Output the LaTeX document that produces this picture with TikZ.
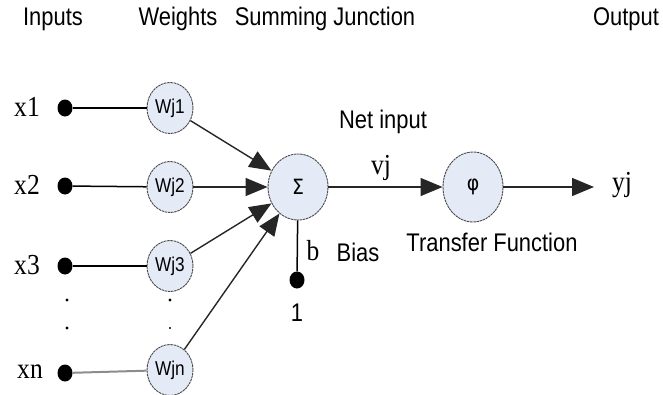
\documentclass[tikz,border=0pt]{standalone}
\usepackage{fontspec}
\setmainfont[FakeStretch=0.88]{Liberation Serif}
\newfontfamily\narrowsans[FakeStretch=0.86]{Liberation Sans}
\newfontfamily\greekfont[FakeStretch=0.9]{DejaVu Sans}
\usetikzlibrary{shapes.geometric,arrows.meta}
\definecolor{cellfill}{HTML}{E4EBF6}
\definecolor{cellrim}{HTML}{4A4A4A}
\tikzset{
  hdr/.style={inner sep=0pt, font=\narrowsans\fontsize{25.5}{27}\selectfont},
  lbl/.style={inner sep=0pt, font=\fontsize{29}{31}\selectfont},
  weightnode/.style={ellipse, draw=cellrim, fill=cellfill, line width=0.9pt,
    dash pattern=on 2.5pt off 0.7pt, minimum width=46pt, minimum height=51pt,
    inner sep=0pt, font=\narrowsans\fontsize{20}{22}\selectfont},
  bignode/.style={ellipse, draw=cellrim, fill=cellfill, line width=0.9pt,
    dash pattern=on 2.5pt off 0.7pt, minimum width=60pt, minimum height=68pt,
    inner sep=0pt},
  pin/.style={ellipse, fill=black, minimum width=15pt, minimum height=17pt, inner sep=0pt},
  tinydot/.style={circle, fill=black, minimum size=3.2pt, inner sep=0pt},
  wire/.style={line width=1.5pt, black},
  feed/.style={line width=1.4pt, black!85, -{Triangle[length=22pt,width=18pt]}},
}
\begin{document}
\begin{tikzpicture}[x=1pt, y=-1pt]
\useasboundingbox (0,0) rectangle (663,394);

% column headings
\node[hdr] (hIn)  at (53,19)  {Inputs};
\node[hdr] (hW)   at (178,19) {Weights};
\node[hdr] (hS)   at (325,19) {Summing Junction};
\node[hdr] (hOut) at (626,19) {Output};

% inputs
\node[lbl] (lx1) at (27,107) {x1};
\node[lbl] (lx2) at (27,185) {x2};
\node[lbl] (lx3) at (27,265) {x3};
\node[lbl] (lxn) at (30,372) {xn};

\node[pin] (p1) at (65,108) {};
\node[pin] (p2) at (65,186) {};
\node[pin] (p3) at (65,266) {};
\node[pin] (pn) at (65,373) {};

% weights
\node[weightnode] (w1) at (170,108) {Wj1};
\node[weightnode] (w2) at (170,187) {Wj2};
\node[weightnode] (w3) at (170,266) {Wj3};
\node[weightnode] (wn) at (170,370) {Wjn};

% ellipsis dots
\node[tinydot] (d1) at (67,300) {};
\node[tinydot] (d2) at (67,328) {};
\node[tinydot] (d3) at (170,300) {};
\node[tinydot, minimum size=2.4pt] (d4) at (170,328) {};

% summing junction and transfer function
\node[bignode, minimum height=66pt, font=\greekfont\fontsize{21}{23}\selectfont] (sig) at (298,187) {Σ};
\node[bignode, minimum height=70pt, font=\greekfont\fontsize{21}{23}\selectfont] (phi) at (473,187) {φ};

% bias
\node[pin] (pb) at (297,280) {};
\node[hdr] (one) at (297,313) {1};
\node[lbl] (lb) at (313,251) {b};
\node[hdr] (lbias) at (358,252) {Bias};

% labels along the output path
\node[hdr] (lnet) at (383,122) {Net input};
\node[lbl] (lvj) at (381,168) {vj};
\node[hdr] (ltf) at (492,242) {Transfer Function};
\node[lbl] (lyj) at (622,185) {yj};
\coordinate (yend) at (594,187);

% wires from inputs to weights
\draw[wire] (p1) -- (w1);
\draw[wire] (p2) -- (w2);
\draw[wire] (p3) -- (w3);
\draw[line width=2pt, black!45] (pn) -- (wn);

% weighted inputs into the sum
\draw[feed] (w1) -- (sig);
\draw[feed] (w2) -- (sig);
\draw[feed] (w3) -- (sig);
\draw[feed] (wn) -- (sig);

% bias line
\draw[wire] (sig) -- (pb);

% sum to transfer function to output
\draw[feed] (sig) -- (phi);
\draw[feed] (phi) -- (yend);
\end{tikzpicture}
\end{document}
